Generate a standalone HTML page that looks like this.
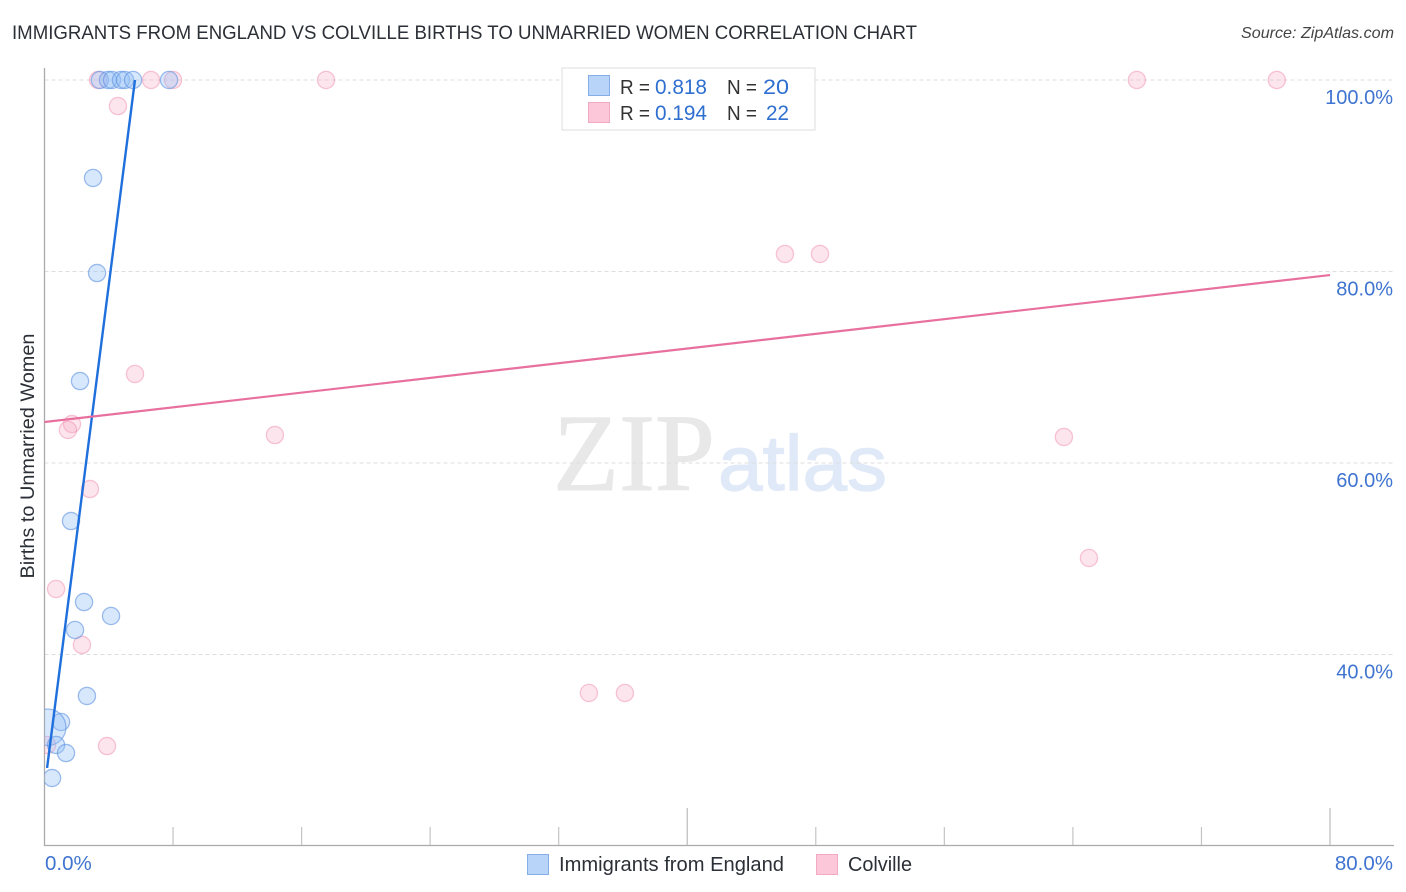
<!DOCTYPE html>
<html lang="en">
<head>
<meta charset="utf-8">
<title>Immigrants from England vs Colville Births to Unmarried Women Correlation Chart</title>
<style>
html,body{margin:0;padding:0;background:#fff;}
body{width:1406px;height:892px;overflow:hidden;}
svg{display:block;font-family:"Liberation Sans",sans-serif;}
</style>
</head>
<body>
<svg id="chart" xmlns="http://www.w3.org/2000/svg" width="1406" height="892" viewBox="0 0 1406 892">
  <defs>
    <clipPath id="plot-clip"><rect x="44.5" y="60" width="1350" height="785"></rect></clipPath>
  </defs>
  <text x="12" y="39" font-size="19.5" fill="#2b2f36" textLength="905" lengthAdjust="spacingAndGlyphs">IMMIGRANTS FROM ENGLAND VS COLVILLE BIRTHS TO UNMARRIED WOMEN CORRELATION CHART</text>
  <text x="1394" y="38" font-size="16" font-style="italic" fill="#444" text-anchor="end" textLength="153" lengthAdjust="spacingAndGlyphs">Source: ZipAtlas.com</text>

  <g>
    <text x="553" y="490" font-family="'Liberation Serif',serif" font-size="110" fill="#e8e8e8" stroke="#e8e8e8" stroke-width="1" textLength="162" lengthAdjust="spacingAndGlyphs">ZIP</text>
    <text x="718" y="490" font-size="78" fill="#dfe9f8" stroke="#dfe9f8" stroke-width="1.2" textLength="169" lengthAdjust="spacingAndGlyphs">atlas</text>
  </g>

  <g id="grid"></g>
  <g id="axes"></g>
  <g id="marks" clip-path="url(#plot-clip)"></g>
  <g id="labels"></g>

  <text transform="translate(34 456) rotate(-90)" font-size="19" fill="#2b2f36" text-anchor="middle" textLength="245" lengthAdjust="spacingAndGlyphs">Births to Unmarried Women</text>

  <g>
    <rect x="562" y="68" width="253" height="62" fill="#fff" stroke="#dcdcdc" stroke-width="1"></rect>
    <rect x="588.5" y="75.5" width="21" height="20" fill="#b9d4f9" stroke="#86aee6" stroke-width="1"></rect>
    <rect x="588.5" y="102.5" width="21" height="20" fill="#fcc8d9" stroke="#f2aac3" stroke-width="1"></rect>
    <text x="620" y="94" font-size="20" fill="#333" textLength="30" lengthAdjust="spacingAndGlyphs">R =</text>
    <text x="655" y="94" font-size="21.5" fill="#2f6fd0" textLength="52" lengthAdjust="spacingAndGlyphs">0.818</text>
    <text x="727" y="94" font-size="20" fill="#333" textLength="30" lengthAdjust="spacingAndGlyphs">N =</text>
    <text x="763" y="94" font-size="21.5" fill="#2f6fd0" textLength="26" lengthAdjust="spacingAndGlyphs">20</text>
    <text x="620" y="120" font-size="20" fill="#333" textLength="30" lengthAdjust="spacingAndGlyphs">R =</text>
    <text x="655" y="120" font-size="21.5" fill="#2f6fd0" textLength="52" lengthAdjust="spacingAndGlyphs">0.194</text>
    <text x="727" y="120" font-size="20" fill="#333" textLength="30" lengthAdjust="spacingAndGlyphs">N =</text>
    <text x="766" y="120" font-size="21.5" fill="#2f6fd0" textLength="23" lengthAdjust="spacingAndGlyphs">22</text>
  </g>

  <g>
    <rect x="527.5" y="854.5" width="21" height="20" fill="#b9d4f9" stroke="#86aee6" stroke-width="1"></rect>
    <text x="559" y="871" font-size="20" fill="#2b2f36" textLength="225" lengthAdjust="spacingAndGlyphs">Immigrants from England</text>
    <rect x="816.5" y="854.5" width="21" height="20" fill="#fcc8d9" stroke="#f2aac3" stroke-width="1"></rect>
    <text x="848" y="871" font-size="20" fill="#2b2f36" textLength="64" lengthAdjust="spacingAndGlyphs">Colville</text>
  </g>
</svg>
<script>
// Chart data
var englandX = [3.45, 3.95, 4.2, 4.76, 5.01, 5.51, 7.75, 3.02, 3.27, 2.21, 1.65, 2.46, 4.14, 1.9, 2.64, 1.03, 0.2, 0.72, 1.34, 0.47];
var englandY = [100, 100, 100, 100, 100, 100, 100, 89.77, 79.84, 68.56, 53.94, 45.48, 44.02, 42.56, 35.67, 32.95, 32.4, 30.55, 29.71, 27.1];
var englandWeight = [1, 1, 1, 1, 1, 1, 1, 1, 1, 1, 1, 1, 1, 1, 1, 1, 4.5, 1, 1, 1];
var colvilleX = [3.33, 6.63, 8.0, 17.52, 67.98, 76.69, 4.57, 46.08, 48.26, 5.63, 1.71, 1.46, 14.34, 63.44, 2.83, 65.0, 0.72, 2.33, 33.88, 36.12, 3.89, 0.16];
var colvilleY = [100, 100, 100, 100, 100, 100, 97.28, 81.83, 81.83, 69.3, 64.07, 63.45, 62.92, 62.72, 57.28, 50.08, 46.84, 41.0, 35.98, 35.98, 30.44, 30.55];
var englandTrendX = [0.16, 5.63];
var englandTrendY = [28.15, 100];
var colvilleTrendX = [0, 80];
var colvilleTrendY = [64.28, 79.63];
var yTickValues = [100, 80, 60, 40];
var yTickLabels = ['100.0%', '80.0%', '60.0%', '40.0%'];
var xTickValues = [0, 8, 16, 24, 32, 40, 48, 56, 64, 72, 80];
var xEndLabels = ['0.0%', '80.0%'];

var NS = 'http://www.w3.org/2000/svg';
function xScale(v) { return 44.5 + v * (1330 - 44.5) / 80; }
function yScale(v) { return 80 + (100 - v) * (654.5 - 80) / 60; }
function make(tag, attrs, parent) {
  var el = document.createElementNS(NS, tag);
  for (var k in attrs) { el.setAttribute(k, attrs[k]); }
  parent.appendChild(el);
  return el;
}

var grid = document.getElementById('grid');
var axes = document.getElementById('axes');
var marks = document.getElementById('marks');
var labels = document.getElementById('labels');

yTickValues.forEach(function (v, i) {
  var line = make('line', {x1: 44.5, x2: 1394, y1: yScale(v), y2: yScale(v), stroke: '#dedede', 'stroke-width': 1, 'stroke-dasharray': '4 3'}, grid);
  
  
  var t = make('text', {x: 1393, y: yScale(v) + 24, 'font-size': 20, fill: '#3f74d0', 'text-anchor': 'end'}, labels);
  t.textContent = yTickLabels[i];
  
  
});

var yAxis = make('line', {x1: 44.5, x2: 44.5, y1: 68, y2: 846, stroke: '#aaa', 'stroke-width': 1.3}, axes);


var xAxis = make('line', {x1: 44, x2: 1394, y1: 845.5, y2: 845.5, stroke: '#aaa', 'stroke-width': 1.3}, axes);



xTickValues.forEach(function (v, i) {
  if (i === 0) { return; }
  var major = (v === 40 || v === 80);
  var tick = make('line', {x1: xScale(v), x2: xScale(v), y1: major ? 808 : 827, y2: 845, stroke: '#c4c4c4', 'stroke-width': major ? 1.4 : 1.2}, axes);
  
  
});

var xLabelLeft = make('text', {x: xScale(xTickValues[0]) + 0.5, y: 870, 'font-size': 20.5, fill: '#3f74d0'}, labels);
xLabelLeft.textContent = xEndLabels[0];


var xLabelRight = make('text', {x: 1393, y: 870, 'font-size': 20.5, fill: '#3f74d0', 'text-anchor': 'end'}, labels);
xLabelRight.textContent = xEndLabels[1];



colvilleX.forEach(function (v, i) {
  var c = make('circle', {cx: xScale(v), cy: yScale(colvilleY[i]), r: 8.6, fill: '#f9a8c2', 'fill-opacity': 0.3, stroke: '#f08fb0', 'stroke-opacity': 0.5, 'stroke-width': 1.3}, marks);
  
  
});
englandX.forEach(function (v, i) {
  var c = make('circle', {cx: xScale(v), cy: yScale(englandY[i]), r: 8.6 * Math.sqrt(englandWeight[i]), fill: '#8fbcf5', 'fill-opacity': 0.35, stroke: '#5f93e0', 'stroke-opacity': 0.6, 'stroke-width': 1.3}, marks);
  
  
});

var trendEngland = make('line', {x1: xScale(englandTrendX[0]), y1: yScale(englandTrendY[0]), x2: xScale(englandTrendX[1]), y2: yScale(englandTrendY[1]), stroke: '#1f6fdc', 'stroke-width': 2.4}, marks);


var trendColville = make('line', {x1: xScale(colvilleTrendX[0]), y1: yScale(colvilleTrendY[0]), x2: xScale(colvilleTrendX[1]), y2: yScale(colvilleTrendY[1]), stroke: '#e8709f', 'stroke-width': 2.2}, marks);


</script>
</body>
</html>
